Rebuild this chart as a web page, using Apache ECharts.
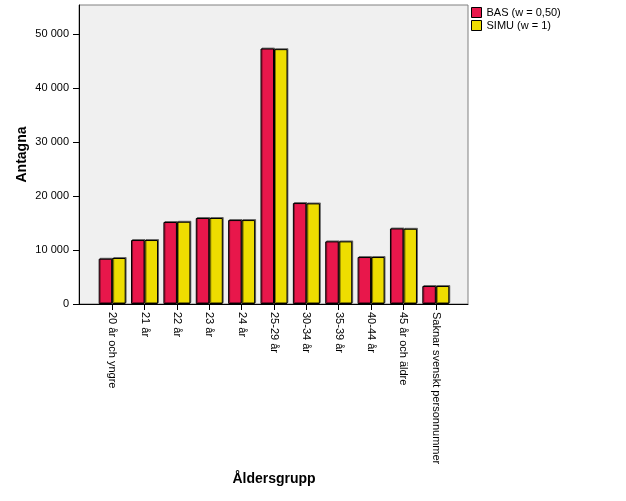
<!DOCTYPE html>
<html>
<head>
<meta charset="utf-8">
<script src="https://cdn.jsdelivr.net/npm/echarts@6/dist/echarts.min.js"></script>
<style>html,body{margin:0;padding:0;background:#fff;}#c{width:626px;height:501px;}</style>
</head>
<body>
<div id="c"></div>
<script>
var categories = ['20 år och yngre','21 år','22 år','23 år','24 år','25-29 år','30-34 år','35-39 år','40-44 år','45 år och äldre','Saknar svenskt personnummer'];
var basValues = [8390, 11850, 15190, 15930, 15550, 47340, 18700, 11600, 8700, 14000, 3330];
var simuValues = [8520, 11850, 15240, 15930, 15550, 47220, 18640, 11600, 8700, 13940, 3330];
var seriesNames = ['BAS (w = 0,50)', 'SIMU (w = 1)'];
var yMax = 55400;
var yInterval = 10000;

var FONT = 'Liberation Sans, Arial, sans-serif';
function fmt(v){ return String(v).replace(/\B(?=(\d{3})+(?!\d))/g, ' '); }

var chart = echarts.init(document.getElementById('c'), null, {renderer:'canvas'});
var barStyle = function(color){
  return {color: color, borderColor: '#000', borderWidth: 1,
          shadowColor: 'rgba(0,0,0,0.45)', shadowOffsetX: 1, shadowOffsetY: -1, shadowBlur: 0};
};
chart.setOption({
  animation: false,
  textStyle: {fontFamily: FONT},
  legend: {
    orient: 'vertical', left: 471, top: 7, padding: 0, itemWidth: 10, itemHeight: 10, itemGap: 2,
    icon: 'rect', textStyle: {fontSize: 11, color: '#000', fontFamily: FONT},
    itemStyle: {borderColor: '#000', borderWidth: 1},
    data: seriesNames
  },
  grid: [
    {left: 79, top: 5, width: 389, height: 299, show: true, backgroundColor: '#f0f0f0',
     borderColor: '#808080', borderWidth: 1, containLabel: false},
    {left: 96, top: 5, width: 356, height: 299, containLabel: false}
  ],
  xAxis: [
    {gridIndex: 0, type: 'value', min: 0, max: 1, axisLine: {show: true, onZero: false, lineStyle: {color: '#000', width: 1}},
     axisTick: {show: false}, axisLabel: {show: false}, splitLine: {show: false}},
    {gridIndex: 1, type: 'category', data: categories, boundaryGap: true,
     axisLine: {show: false},
     axisTick: {show: true, alignWithLabel: true, length: 6, lineStyle: {color: '#000'}},
     axisLabel: {rotate: -90, fontSize: 11, color: '#000', margin: 8, interval: 0, fontFamily: FONT},
     name: 'Åldersgrupp', nameLocation: 'middle', nameGap: 168, nameMoveOverlap: false,
     nameTextStyle: {fontSize: 14, fontWeight: 'bold', color: '#000', fontFamily: FONT}}
  ],
  yAxis: [
    {gridIndex: 0, type: 'value', min: 0, max: yMax, interval: yInterval,
     axisLine: {show: true, lineStyle: {color: '#000', width: 1}},
     axisTick: {show: true, length: 6, lineStyle: {color: '#000'}},
     axisLabel: {fontSize: 11, color: '#000', margin: 10, showMaxLabel: false, formatter: fmt, fontFamily: FONT},
     splitLine: {show: false},
     name: 'Antagna', nameLocation: 'middle', nameGap: 50, nameRotate: 90, nameMoveOverlap: false,
     nameTextStyle: {fontSize: 14, fontWeight: 'bold', color: '#000', fontFamily: FONT}},
    {gridIndex: 1, type: 'value', min: 0, max: yMax, interval: yInterval, show: false, splitLine: {show: false}}
  ],
  series: [
    {name: seriesNames[0], type: 'bar', xAxisIndex: 1, yAxisIndex: 1, data: basValues,
     barWidth: 13.5, barGap: '0%', itemStyle: barStyle('#e8174b')},
    {name: seriesNames[1], type: 'bar', xAxisIndex: 1, yAxisIndex: 1, data: simuValues,
     barWidth: 13.5, barGap: '0%', itemStyle: barStyle('#eedd00')}
  ]
});
</script>
</body>
</html>
